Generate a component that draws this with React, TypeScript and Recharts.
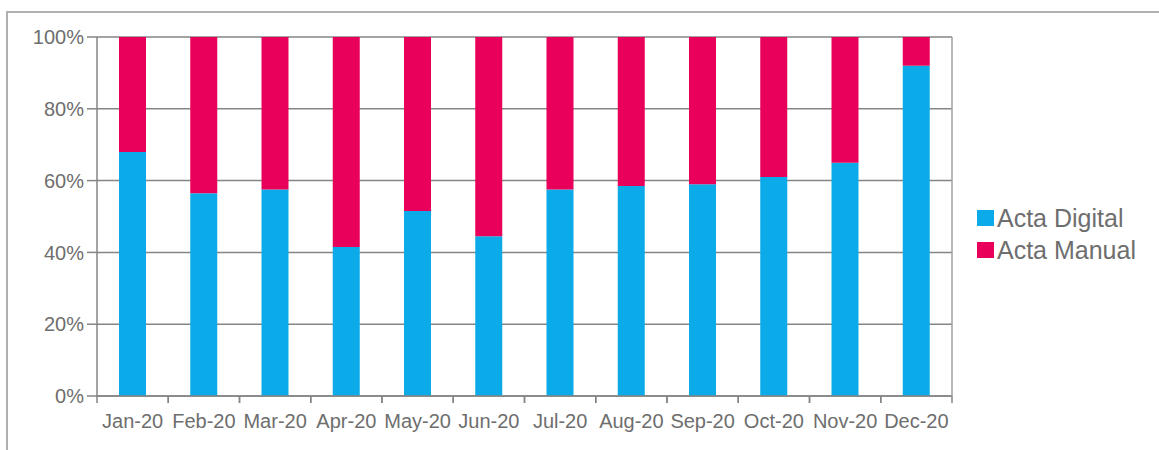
import React from "react";
import { BarChart, Bar, XAxis, YAxis, CartesianGrid, Legend } from "recharts";

const months = ["Jan-20", "Feb-20", "Mar-20", "Apr-20", "May-20", "Jun-20", "Jul-20", "Aug-20", "Sep-20", "Oct-20", "Nov-20", "Dec-20"];
const actaDigital = [68, 56.5, 57.5, 41.5, 51.5, 44.5, 57.5, 58.5, 59, 61, 65, 92];
const actaManual = [32, 43.5, 42.5, 58.5, 48.5, 55.5, 42.5, 41.5, 41, 39, 35, 8];
const yTicks = [0, 20, 40, 60, 80, 100];

const data = months.map((m, i) => ({ month: m, digital: actaDigital[i], manual: actaManual[i] }));

const BLUE = "#0aabe8";
const PINK = "#e8005a";
const GRID = "#858585";
const TEXT = "#6e6e6e";
const FONT = "'Liberation Sans', Arial, sans-serif";

const line = { stroke: GRID, strokeWidth: 1.5 };

// month label, plus tick marks on the category edges (offset = half the band)
const MonthTick = (props: any) => {
    const { x, y, payload } = props;
    const half = payload.offset ?? 0;
    const top = y - 16;
    return (
        <g>
            <line x1={x - half} x2={x - half} y1={top} y2={top + 7} stroke={GRID} strokeWidth={1.5} />
            <line x1={x + half} x2={x + half} y1={top} y2={top + 7} stroke={GRID} strokeWidth={1.5} />
            <text x={x} y={y} dy={16} textAnchor="middle" fill={TEXT} fontSize={20} fontFamily={FONT}>
                {payload.value}
            </text>
        </g>
    );
};

const renderLegend = (props: any) => (
    <div style={{ fontFamily: FONT, fontSize: 25, color: TEXT, lineHeight: "32px" }}>
        {props.payload.map((p: any) => (
            <div key={p.value} style={{ display: "flex", alignItems: "center", height: 32 }}>
                <span style={{ width: 17, height: 16, background: p.color, marginRight: 3, display: "inline-block" }} />
                <span>{p.value}</span>
            </div>
        ))}
    </div>
);

export default function App() {
    return (
        <div style={{ position: "fixed", left: 0, top: 0, width: 1159, height: 450, background: "#fff", overflow: "hidden" }}>
            <div style={{ position: "absolute", left: 0, top: 0 }}>
                <BarChart
                    width={1159}
                    height={450}
                    data={data}
                    margin={{ top: 37, right: 206, left: 7, bottom: 0 }}
                >
                    <CartesianGrid vertical={false} stroke={GRID} strokeWidth={1.5} />
                    <XAxis
                        dataKey="month"
                        height={54}
                        axisLine={line}
                        tickLine={false}
                        tickSize={6}
                        tickMargin={10}
                        interval={0}
                        tick={<MonthTick />}
                    />
                    <YAxis
                        domain={[0, 100]}
                        ticks={yTicks}
                        width={90}
                        tickSize={10}
                        tickMargin={3}
                        tickFormatter={(v) => `${v}%`}
                        axisLine={line}
                        tickLine={line}
                        tick={{ fill: TEXT, fontSize: 20, fontFamily: FONT }}
                    />
                    <YAxis
                        yAxisId="r"
                        orientation="right"
                        domain={[0, 100]}
                        width={1}
                        tick={false}
                        tickLine={false}
                        axisLine={{ stroke: "#a0a0a0", strokeWidth: 1.5 }}
                    />
                    <Legend
                        layout="vertical"
                        align="center"
                        verticalAlign="middle"
                        content={renderLegend}
                        wrapperStyle={{ left: 977, top: 202, width: 180 }}
                    />
                    <Bar dataKey="digital" name="Acta Digital" stackId="a" fill={BLUE} barSize={27} isAnimationActive={false} />
                    <Bar dataKey="manual" name="Acta Manual" stackId="a" fill={PINK} barSize={27} isAnimationActive={false} />
                </BarChart>
            </div>
            <div
                style={{
                    position: "absolute",
                    left: 6,
                    top: 11,
                    width: 1170,
                    height: 460,
                    borderTop: "2px solid #b0b0b0",
                    borderLeft: "2px solid #b0b0b0",
                    pointerEvents: "none",
                }}
            />
        </div>
    );
}
